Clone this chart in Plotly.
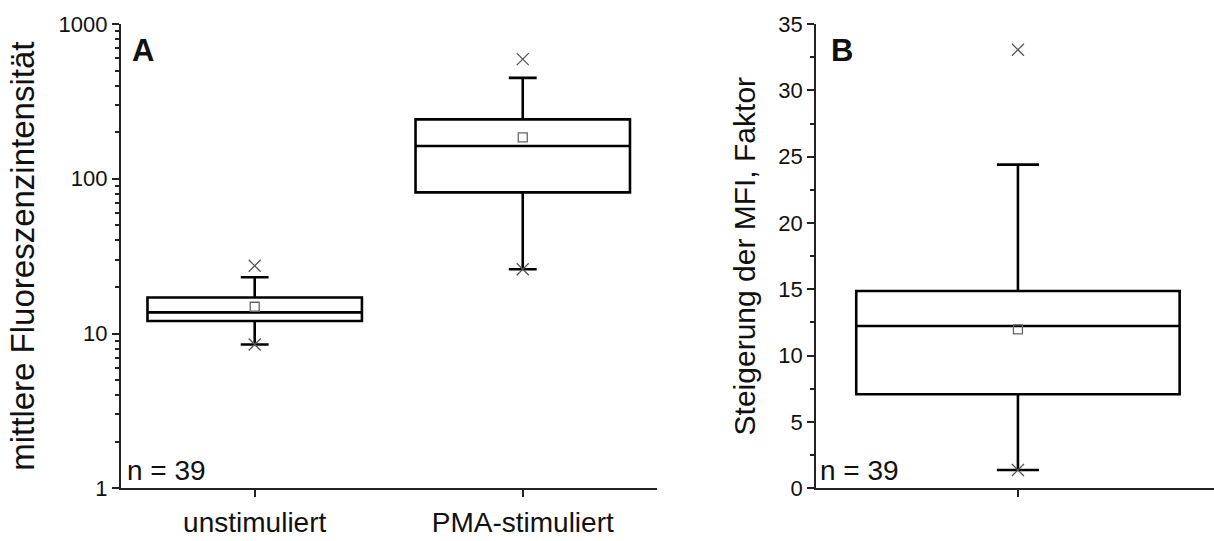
import plotly.graph_objects as go

# ---- Panel A data (log scale) ----
categories_A = ["unstimuliert", "PMA-stimuliert"]
q1_A = [12.05, 81.7]
median_A = [13.7, 163]
q3_A = [17.1, 242]
mean_A = [14.9, 185]
lowerfence_A = [8.5, 26.0]
upperfence_A = [23.1, 449]
pct_low_A = [8.5, 26.0]
pct_high_A = [27.4, 593]

# ---- Panel B data ----
categories_B = [""]
q1_B = [7.09]
median_B = [12.23]
q3_B = [14.87]
mean_B = [11.98]
lowerfence_B = [1.38]
upperfence_B = [24.4]
pct_low_B = [1.38]
pct_high_B = [33.06]

FONT = "Liberation Sans, Arial, sans-serif"
BOXLINE = dict(color="black", width=2.6)

fig = go.Figure()

xA = [i + 1 for i in range(len(categories_A))]
xB = [i + 1 for i in range(len(categories_B))]

fig.add_trace(go.Box(
    x=xA, q1=q1_A, median=median_A, q3=q3_A,
    lowerfence=lowerfence_A, upperfence=upperfence_A,
    width=0.8, whiskerwidth=0.13, line=BOXLINE, fillcolor="white",
    boxpoints=False, xaxis="x", yaxis="y", showlegend=False, hoverinfo="skip"))
fig.add_trace(go.Scatter(
    x=xA, y=mean_A, mode="markers", xaxis="x", yaxis="y", showlegend=False,
    marker=dict(symbol="square-open", size=9, color="#666", line=dict(width=1.3))))
fig.add_trace(go.Scatter(
    x=xA + xA, y=pct_low_A + pct_high_A, mode="markers", xaxis="x", yaxis="y",
    showlegend=False,
    marker=dict(symbol="x-thin-open", size=12, color="#555", line=dict(width=1.3, color="#555"))))

fig.add_trace(go.Box(
    x=xB, q1=q1_B, median=median_B, q3=q3_B,
    lowerfence=lowerfence_B, upperfence=upperfence_B,
    width=0.8, whiskerwidth=0.13, line=BOXLINE, fillcolor="white",
    boxpoints=False, xaxis="x2", yaxis="y2", showlegend=False, hoverinfo="skip"))
fig.add_trace(go.Scatter(
    x=xB, y=mean_B, mode="markers", xaxis="x2", yaxis="y2", showlegend=False,
    marker=dict(symbol="square-open", size=9, color="#666", line=dict(width=1.3))))
fig.add_trace(go.Scatter(
    x=xB + xB, y=pct_low_B + pct_high_B, mode="markers", xaxis="x2", yaxis="y2",
    showlegend=False,
    marker=dict(symbol="x-thin-open", size=12, color="#555", line=dict(width=1.3, color="#555"))))

axis_common = dict(showline=True, linecolor="#222", linewidth=1.5, showgrid=False,
                   zeroline=False, ticks="outside", tickcolor="#222", tickwidth=1.5,
                   automargin=False,
                   tickfont=dict(family=FONT, size=22, color="#111"))

minor_log = [d * 10 ** e for e in range(0, 3) for d in range(2, 10)]

fig.update_layout(
    width=1214, height=541,
    margin=dict(l=0, r=0, t=0, b=0, autoexpand=False),
    paper_bgcolor="white", plot_bgcolor="white",
    font=dict(family=FONT, color="#111"),
    xaxis=dict(axis_common, domain=[0.0994, 0.541], range=[0.5, 2.5],
               tickvals=xA, ticktext=categories_A, ticklen=7,
               tickfont=dict(family=FONT, size=28, color="#111"),
               ticklabelstandoff=1, anchor="y"),
    yaxis=dict(axis_common, type="log", domain=[0.0974, 0.9556], range=[0, 3],
               tickvals=[1, 10, 100, 1000], ticktext=["1", "10", "100", "1000"],
               ticklen=7,
               minor=dict(tickvals=minor_log, ticks="outside", ticklen=4,
                          tickcolor="#222", tickwidth=1.5),
               title=dict(text="mittlere Fluoreszenzintensität",
                          font=dict(family=FONT, size=33, color="#111"), standoff=14),
               anchor="x"),
    xaxis2=dict(axis_common, domain=[0.672, 1.0], range=[0.5, 1.485],
                tickvals=xB, ticktext=categories_B, ticklen=7, anchor="y2"),
    yaxis2=dict(axis_common, domain=[0.0974, 0.9556], range=[0, 35],
                tickvals=[0, 5, 10, 15, 20, 25, 30, 35], ticklen=7,
                minor=dict(dtick=2.5, ticks="outside", ticklen=4,
                           tickcolor="#222", tickwidth=1.5),
                title=dict(text="Steigerung der MFI, Faktor",
                           font=dict(family=FONT, size=30, color="#111"), standoff=14),
                anchor="x2"),
    annotations=[
        dict(text="<b>A</b>", xref="x domain", yref="y domain", x=0.018, y=0.985,
             xanchor="left", yanchor="top", showarrow=False,
             font=dict(family=FONT, size=31, color="#111")),
        dict(text="<b>B</b>", xref="x2 domain", yref="y2 domain", x=0.032, y=0.985,
             xanchor="left", yanchor="top", showarrow=False,
             font=dict(family=FONT, size=31, color="#111")),
        dict(text="n = 39", xref="x domain", yref="y domain", x=0.008, y=0.0,
             xanchor="left", yanchor="bottom", showarrow=False,
             font=dict(family=FONT, size=28, color="#111")),
        dict(text="n = 39", xref="x2 domain", yref="y2 domain", x=0.005, y=0.0,
             xanchor="left", yanchor="bottom", showarrow=False,
             font=dict(family=FONT, size=28, color="#111")),
    ],
)

fig.write_html("out.html")
